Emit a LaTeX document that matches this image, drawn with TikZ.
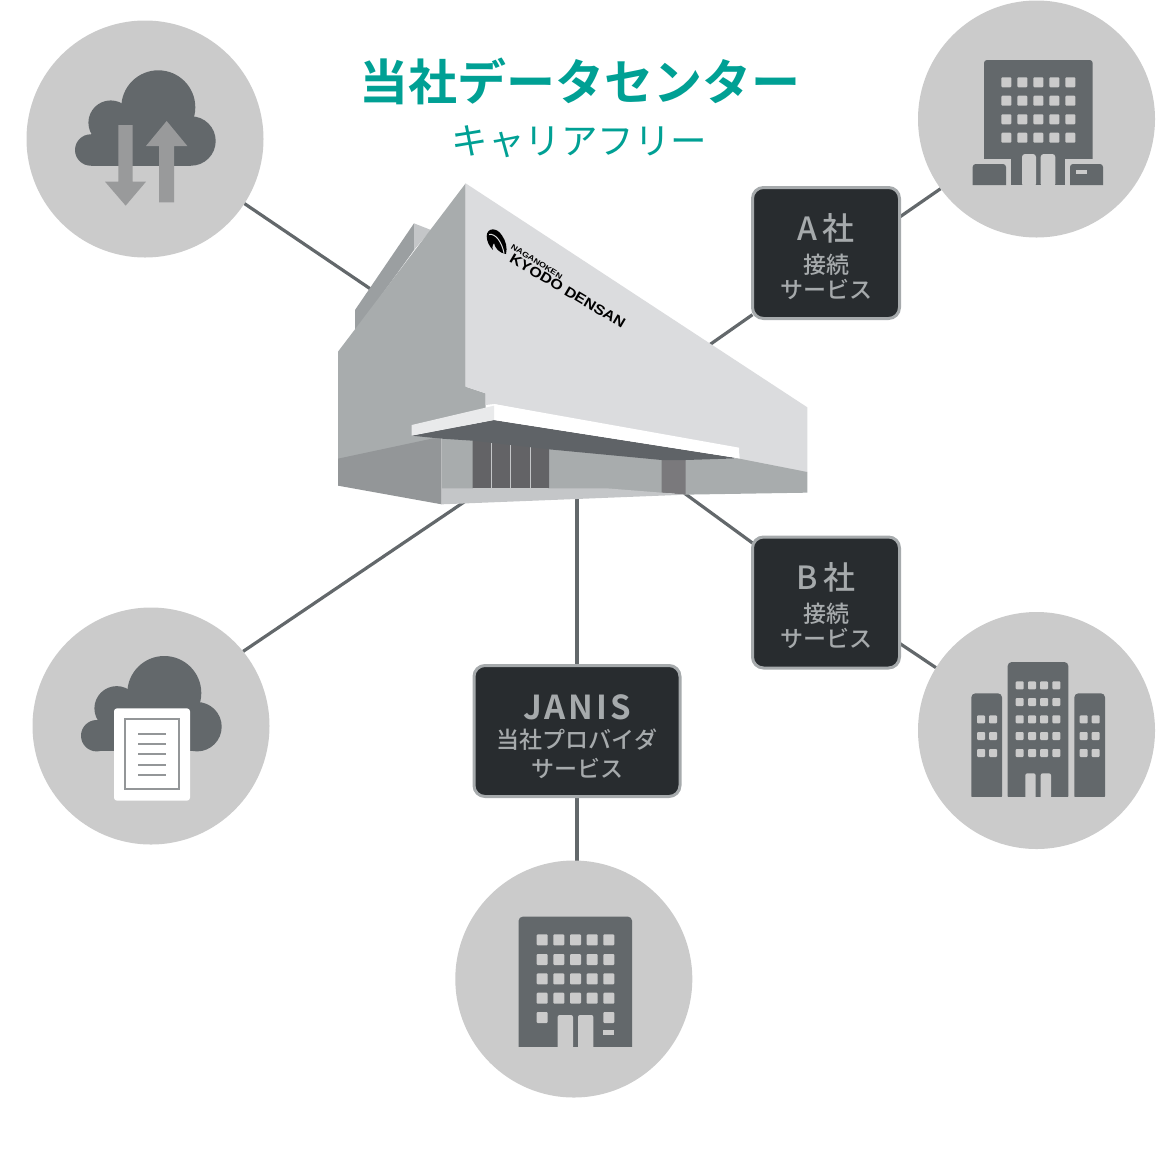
\documentclass[tikz,border=0pt]{standalone}
\usepackage{fontspec}
\setmainfont{Noto Sans CJK JP}
\newfontfamily\jpb{Noto Sans CJK JP Bold}
\newfontfamily\jpm{Noto Sans CJK JP Medium}
\newfontfamily\latinb{Liberation Sans Bold}
\usetikzlibrary{backgrounds}
\definecolor{disc}{HTML}{CBCBCB}
\definecolor{ink}{HTML}{63686B}
\definecolor{boxfill}{HTML}{282C2F}
\definecolor{boxline}{HTML}{A6AAAC}
\definecolor{teal}{HTML}{00A094}
\definecolor{wallmid}{HTML}{A8ACAD}
\definecolor{walldark}{HTML}{939698}
\definecolor{wallback}{HTML}{9B9FA1}
\definecolor{wallpale}{HTML}{C4C6C8}
\definecolor{face}{HTML}{DBDCDE}
\definecolor{soffit}{HTML}{5F6367}
\definecolor{door}{HTML}{636366}
\definecolor{doorb}{HTML}{7A797C}
\definecolor{arrowg}{HTML}{999A9B}
\tikzset{
  discnode/.style={circle,fill=disc,minimum size=237pt,inner sep=0pt,outer sep=0pt},
  svcbox/.style={rectangle,rounded corners=11pt,fill=boxfill,draw=boxline,line width=3pt,
    text=boxline,align=center,inner sep=0pt,outer sep=0pt,minimum height=131pt,font=\jpm},
  link/.style={draw=ink,line width=3.2pt},
  win/.style={fill=disc,rounded corners=1pt},
  zoomed/.style={shift={#1},scale=1/3},
}
\newcommand{\bigline}[1]{\fontsize{32}{32}\selectfont\rule{0pt}{34pt}#1}
\newcommand{\smallline}[1]{\fontsize{23}{26}\selectfont #1}
\newcommand{\wnd}[4]{\fill[win] (#1,#2) rectangle ++(#3,#4);}
\newcommand{\cloudshape}{%
  \fill[ink] (90.7,150) circle (15.7);
  \fill[ink] (110.7,122.7) circle (22.3);
  \fill[ink] (158.3,107.3) circle (37);
  \fill[ink] (191,141) circle (24.7);
  \fill[ink] (90.7,134.3) rectangle (191,165.7);
  \fill[ink] (110,118) rectangle (180,140);
}
\begin{document}
\begin{tikzpicture}[x=1pt,y=-1pt]
\useasboundingbox (0,0) rectangle (1156,1152);
% discs
\node[discnode] (cloudA) at (145,139) {};
\node[discnode] (cloudB) at (151,726) {};
\node[discnode] (siteA) at (1036.5,119) {};
\node[discnode] (siteB) at (1036.5,730.5) {};
\node[discnode] (siteC) at (573.8,979) {};
% boxes
\node[svcbox,minimum width=147pt] (boxA) at (826,253) {\bigline{A\,社}\\[9.5pt]\smallline{接続}\\[3pt]\smallline{サービス}};
\node[svcbox,minimum width=147pt] (boxB) at (826,602.5) {\bigline{B\,社}\\[9.5pt]\smallline{接続}\\[3pt]\smallline{サービス}};
\node[svcbox,minimum width=206pt] (janis) at (577,731) {\fontsize{33}{33}\selectfont\jpb\addfontfeature{LetterSpace=9}\rule{0pt}{36pt}JANIS\\[8pt]\jpm\smallline{当社プロバイダ}\\[6pt]\smallline{サービス}};
% title
\node[text=teal,inner sep=0pt] (title) at (579.7,81) {\fontsize{49}{49}\selectfont\jpb 当社データセンター};
\node[text=teal,inner sep=0pt] (subtitle) at (579.5,142) {\fontsize{36.5}{36.5}\selectfont キャリアフリー};
% hubs on the building
\coordinate (hubTL) at (375,292);
\coordinate (hubL) at (470,498);
\coordinate (hubC) at (577,495);
\coordinate (hubA) at (705,348);
\coordinate (hubB) at (680,490);
\begin{scope}[on background layer]
  \draw[link] (cloudA.-33) -- (hubTL);
  \draw[link] (cloudB.39) -- (hubL);
  \draw[link] (hubC) -- (janis.north -| hubC);
  \draw[link] (janis.south) -- (janis.south |- siteC.north);
  \draw[link] (hubA) -- (boxA.220);
  \draw[link] (boxA.26.6) -- (siteA.216);
  \draw[link] (hubB) -- (boxB.141);
  \draw[link] (boxB.-29) -- (siteB.148);
\end{scope}
% building (zoom coordinates)
\begin{scope}[zoomed={(330,170)}]
  \fill[wallback] (75,420) -- (252,160) -- (252,240) -- (75,485) -- cycle;
  \fill[wallpale] (252,160) -- (303,180) -- (252,240) -- cycle;
  \fill[wallmid] (24,545) -- (407,40) -- (407,650) -- (467,670) -- (467,730) -- (320,812) -- (24,870) -- cycle;
  \fill[walldark] (24,866) -- (310,805) -- (335,806) -- (335,1003) -- (24,947) -- cycle;
  \fill[face] (407,40) -- (1432,712) -- (1432,906) -- (1230,880) -- (1227,840) -- (492,702) -- (467,705) -- (467,670) -- (407,650) -- cycle;
  \fill[wallmid] (335,800) -- (430,800) -- (430,960) -- (335,960) -- cycle;
  \fill[wallmid] (655,830) -- (1000,860) -- (1000,975) -- (655,960) -- cycle;
  \fill[wallmid] (1060,862) -- (1228,866) -- (1432,906) -- (1432,968) -- (1060,974) -- cycle;
  \fill[door] (428,805) -- (657,830) -- (657,955) -- (428,955) -- cycle;
  \foreach \lx in {485,542,600} \draw[wallpale,line width=.7pt] (\lx,815) -- (\lx,955);
  \fill[doorb] (995,865) -- (1067,865) -- (1067,974) -- (995,968) -- cycle;
  \fill[wallpale] (335,955) -- (830,955) -- (995,968) -- (1067,974) -- (335,1003) -- cycle;
  \fill[soffit] (245,797) -- (492,750) -- (1227,865) -- (1067,870) -- (995,870) -- (657,838) -- (428,812) -- (335,806) -- cycle;
  \fill[white] (492,702) -- (1227,833) -- (1227,865) -- (492,750) -- cycle;
  \fill[face!60!white] (492,707) -- (492,750) -- (245,797) -- (245,765) -- cycle;
\end{scope}
% logo
\fill[black] (486.7,236) .. controls (487,227.5) and (497,227) .. (502,235.5) .. controls (506,241) and (507.5,248) .. (506,254) .. controls (499,253) and (495,248) .. (494,243) .. controls (492,246) and (492,249) .. (493,250) .. controls (489,246) and (486.7,241) .. (486.7,236) -- cycle;
\draw[face,line width=1pt] (489,234.5) .. controls (496,233) and (502,243) .. (504,253);
\node[rotate=-32,anchor=west,inner sep=0pt] (logoTop) at (511.5,246) {\scalebox{1.2}[1]{\fontsize{7.5}{7.5}\selectfont\latinb NAGANOKEN}};
\node[rotate=-30.6,anchor=west,inner sep=0pt] (logoMain) at (511,257.5) {\scalebox{1.15}[1]{\fontsize{14}{14}\selectfont\latinb KYODO DENSAN}};
% cloud with arrows
\cloudshape
\begin{scope}[zoomed={(20,20)}]
  \fill[arrowg] (295,315) -- (338,315) -- (338,485) -- (378,485) -- (317,557) -- (255,485) -- (295,485) -- cycle;
  \fill[arrowg] (417,547) -- (462,547) -- (462,378) -- (502,378) -- (440,303) -- (378,378) -- (417,378) -- cycle;
\end{scope}
% cloud with document
\begin{scope}[shift={(6,585.7)}]
  \cloudshape
\end{scope}
\begin{scope}[zoomed={(30,610)}]
  \fill[white,rounded corners=3pt] (252,295) rectangle (480,572);
  \draw[walldark,line width=2.2pt] (286,328) rectangle (447,538);
  \foreach \ly in {371,402,433,464,495} \draw[walldark,line width=2.2pt] (324,\ly) -- (409,\ly);
\end{scope}
% office with wings
\begin{scope}[zoomed={(910,0)}]
  \fill[ink,rounded corners=3pt] (222,180) -- (548,180) -- (548,490) -- (222,490) -- cycle;
  \fill[disc] (222,478) rectangle (303,495);
  \fill[disc] (465,478) rectangle (548,495);
  \fill[ink] (303,470) rectangle (465,555);
  \fill[ink] (188,555) [rounded corners=3pt] -- (188,492) -- (288,492) [sharp corners] -- (288,555) -- cycle;
  \fill[ink] (480,555) [rounded corners=3pt] -- (480,492) -- (579,492) [sharp corners] -- (579,555) -- cycle;
  \fill[disc,rounded corners=3pt] (336,560) -- (336,462) -- (378,462) -- (378,560) -- cycle;
  \fill[disc,rounded corners=3pt] (392,560) -- (392,462) -- (436,462) -- (436,560) -- cycle;
  \foreach \wx in {274,322,370,418,466} \foreach \wy in {232,287,343,398} {\wnd{\wx}{\wy}{30}{30}}
  \fill[disc] (497,511) rectangle (530,523);
\end{scope}
% three towers
\begin{scope}[zoomed={(910,610)}]
  \fill[ink,rounded corners=4pt] (293,570) -- (293,156) -- (475,156) -- (475,570) -- cycle;
  \fill[ink,rounded corners=4pt] (184,570) -- (184,250) -- (276,250) -- (276,570) -- cycle;
  \fill[ink,rounded corners=4pt] (493,570) -- (493,250) -- (585,250) -- (585,570) -- cycle;
  \fill[disc] (180,560) rectangle (590,575);
  \foreach \wx in {317,354,390,427} \foreach \wy in {214,264,316,366,417} {\wnd{\wx}{\wy}{24}{24}}
  \foreach \wx in {201,237,509,545} \foreach \wy in {316,366,417} {\wnd{\wx}{\wy}{24}{24}}
  \fill[disc,rounded corners=2pt] (346,566) -- (346,490) -- (377,490) -- (377,566) -- cycle;
  \fill[disc,rounded corners=2pt] (392,566) -- (392,490) -- (423,490) -- (423,566) -- cycle;
\end{scope}
% single office
\begin{scope}[zoomed={(450,860)}]
  \fill[ink,rounded corners=4pt] (206,575) -- (206,170) -- (546,170) -- (546,575) -- cycle;
  \fill[disc] (200,561) rectangle (550,580);
  \foreach \wx in {260,310,360,410,460} \foreach \wy in {223,282,340,398} {\wnd{\wx}{\wy}{33}{33}}
  \wnd{260}{456}{33}{33}
  \wnd{460}{456}{33}{33}
  \fill[disc] (460,511) rectangle (492,524);
  \fill[disc,rounded corners=2pt] (323,566) -- (323,465) -- (369,465) -- (369,566) -- cycle;
  \fill[disc,rounded corners=2pt] (384,566) -- (384,465) -- (430,465) -- (430,566) -- cycle;
\end{scope}
\end{tikzpicture}
\end{document}
